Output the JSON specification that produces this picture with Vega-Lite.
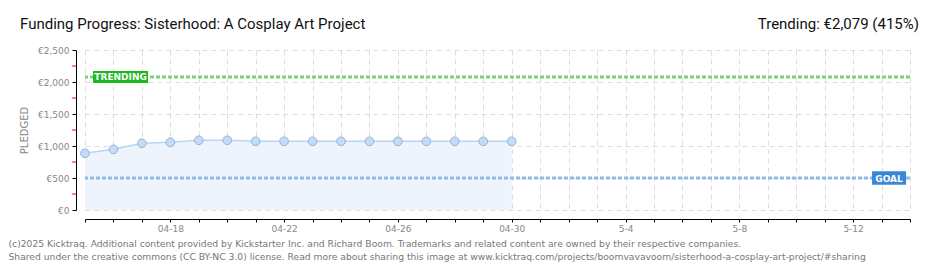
{
  "$schema": "https://vega.github.io/schema/vega-lite/v6.json",
  "width": 825,
  "height": 160,
  "autosize": {"type": "none"},
  "padding": {"left": 85, "top": 50, "right": 30, "bottom": 60},
  "background": "white",
  "config": {
    "view": {"stroke": null},
    "font": "DejaVu Sans",
    "locale": {"number": {"decimal": ".", "thousands": ",", "grouping": [3], "currency": ["€", ""]}}
  },
  "datasets": {
    "pledged": [
      {"date": "2025-04-15", "amount": 886},
      {"date": "2025-04-16", "amount": 948},
      {"date": "2025-04-17", "amount": 1042},
      {"date": "2025-04-18", "amount": 1058},
      {"date": "2025-04-19", "amount": 1089},
      {"date": "2025-04-20", "amount": 1089},
      {"date": "2025-04-21", "amount": 1073},
      {"date": "2025-04-22", "amount": 1073},
      {"date": "2025-04-23", "amount": 1073},
      {"date": "2025-04-24", "amount": 1073},
      {"date": "2025-04-25", "amount": 1073},
      {"date": "2025-04-26", "amount": 1073},
      {"date": "2025-04-27", "amount": 1073},
      {"date": "2025-04-28", "amount": 1073},
      {"date": "2025-04-29", "amount": 1073},
      {"date": "2025-04-30", "amount": 1073}
    ],
    "refs": [
      {"label": "TRENDING", "value": 2079, "boxdate": "2025-04-16T06:00:00Z", "kind": "trend"},
      {"label": "GOAL", "value": 500, "boxdate": "2025-05-13T06:20:00Z", "kind": "goal"}
    ],
    "minor": [
      {"date": "2025-04-15", "v": 250},
      {"date": "2025-04-15", "v": 750},
      {"date": "2025-04-15", "v": 1250},
      {"date": "2025-04-15", "v": 1750},
      {"date": "2025-04-15", "v": 2250}
    ],
    "headline": [
      {"date": "2025-04-15", "value": 2500, "text": "Funding Progress: Sisterhood: A Cosplay Art Project", "side": "left"},
      {"date": "2025-05-14", "value": 2500, "text": "Trending: €2,079 (415%)", "side": "right"}
    ]
  },
  "layer": [
    {
      "data": {"name": "pledged"},
      "mark": {"type": "area", "color": "#edf4fc", "line": false},
      "encoding": {
        "x": {
          "field": "date",
          "type": "temporal",
          "scale": {
            "type": "utc",
            "domain": [
              {"year": 2025, "month": 4, "date": 15, "utc": true},
              {"year": 2025, "month": 5, "date": 14, "utc": true}
            ],
            "nice": false
          },
          "axis": {
            "tickCount": {"interval": "day", "step": 1},
            "labelExpr": "((datum.value - 1744675200000) / 86400000) % 4 == 3 ? (utcmonth(datum.value) == 3 ? utcFormat(datum.value, '%m-%d') : utcFormat(datum.value, '%-m-%-d')) : ''",
            "labelColor": "#888",
            "labelFontSize": 9,
            "labelPadding": 2,
            "labelOverlap": false,
            "labelFlush": false,
            "domainColor": "#000",
            "tickColor": "#000",
            "tickSize": 3,
            "offset": 9,
            "grid": true,
            "gridColor": "#ddd",
            "gridDash": [5, 4],
            "title": [
              "(c)2025 Kicktraq. Additional content provided by Kickstarter Inc. and Richard Boom. Trademarks and related content are owned by their respective companies.",
              "Shared under the creative commons (CC BY-NC 3.0) license. Read more about sharing this image at www.kicktraq.com/projects/boomvavavoom/sisterhood-a-cosplay-art-project/#sharing"
            ],
            "titleX": -77,
            "titleY": 27,
            "titleAlign": "left",
            "titleAnchor": "start",
            "titleBaseline": "alphabetic",
            "titleFont": "DejaVu Sans",
            "titleFontSize": 9.2,
            "titleFontWeight": "normal",
            "titleColor": "#777",
            "titleLineHeight": 13
          }
        },
        "y": {
          "field": "amount",
          "type": "quantitative",
          "scale": {"domain": [0, 2500], "nice": false, "zero": true},
          "axis": {
            "tickCount": 5,
            "tickMinStep": 500,
            "format": "$,d",
            "labelColor": "#888",
            "labelFontSize": 9,
            "labelPadding": 3,
            "labelOverlap": false,
            "labelFlush": false,
            "labelSeparation": 0,
            "domainColor": "#000",
            "tickColor": "#000",
            "tickSize": 4,
            "offset": 9,
            "grid": true,
            "gridColor": "#ddd",
            "gridDash": [5, 4],
            "title": "PLEDGED",
            "titleColor": "#888",
            "titleFontSize": 10,
            "titleFontWeight": "normal",
            "titlePadding": 8
          }
        }
      }
    },
    {
      "data": {"name": "minor"},
      "mark": {"type": "tick", "color": "#e00", "size": 4, "thickness": 1, "xOffset": -11, "orient": "horizontal", "opacity": 1},
      "encoding": {
        "x": {"field": "date", "type": "temporal"},
        "y": {"field": "v", "type": "quantitative"}
      }
    },
    {
      "data": {"name": "pledged"},
      "mark": {"type": "line", "color": "#b9d5f2", "strokeWidth": 1.5},
      "encoding": {
        "x": {"field": "date", "type": "temporal"},
        "y": {"field": "amount", "type": "quantitative"}
      }
    },
    {
      "data": {"name": "pledged"},
      "mark": {"type": "rule", "color": "#d5e4f5", "strokeWidth": 1},
      "transform": [{"filter": "datum.date == '2025-04-30'"}],
      "encoding": {
        "x": {"field": "date", "type": "temporal"},
        "y": {"field": "amount", "type": "quantitative"},
        "y2": {"datum": 0}
      }
    },
    {
      "data": {"name": "refs"},
      "transform": [{"filter": "datum.kind == 'trend'"}],
      "mark": {"type": "rule", "strokeWidth": 3, "strokeDash": [4, 2], "color": "#7ccf7c"},
      "encoding": {
        "y": {"field": "value", "type": "quantitative"}
      }
    },
    {
      "data": {"name": "refs"},
      "transform": [{"filter": "datum.kind == 'goal'"}],
      "mark": {"type": "rule", "strokeWidth": 3, "strokeDash": [4, 2], "color": "#92b9e6"},
      "encoding": {
        "y": {"field": "value", "type": "quantitative"}
      }
    },
    {
      "data": {"name": "pledged"},
      "mark": {"type": "point", "filled": true, "size": 75, "color": "#c4dcf6", "stroke": "#93b3d9", "strokeWidth": 1, "opacity": 1},
      "encoding": {
        "x": {"field": "date", "type": "temporal"},
        "y": {"field": "amount", "type": "quantitative"}
      }
    },
    {
      "data": {"name": "refs"},
      "transform": [{"filter": "datum.kind == 'trend'"}],
      "mark": {"type": "point", "filled": true, "opacity": 1, "strokeWidth": 0, "color": "#1db81d", "shape": "M-1,-0.22L1,-0.22L1,0.22L-1,0.22Z", "size": 3025},
      "encoding": {
        "x": {"field": "boxdate", "type": "temporal"},
        "y": {"field": "value", "type": "quantitative"}
      }
    },
    {
      "data": {"name": "refs"},
      "transform": [{"filter": "datum.kind == 'goal'"}],
      "mark": {"type": "point", "filled": true, "opacity": 1, "strokeWidth": 0, "color": "#3a87d6", "shape": "M-1,-0.39L1,-0.39L1,0.39L-1,0.39Z", "size": 1156},
      "encoding": {
        "x": {"field": "boxdate", "type": "temporal"},
        "y": {"field": "value", "type": "quantitative"}
      }
    },
    {
      "data": {"name": "refs"},
      "mark": {"type": "text", "color": "white", "fontSize": 9, "fontWeight": "bold", "font": "DejaVu Sans", "align": "center", "baseline": "middle", "dy": 0.5},
      "encoding": {
        "x": {"field": "boxdate", "type": "temporal"},
        "y": {"field": "value", "type": "quantitative"},
        "text": {"field": "label"}
      }
    },
    {
      "data": {"name": "headline"},
      "transform": [{"filter": "datum.side == 'left'"}],
      "mark": {"type": "text", "align": "left", "baseline": "alphabetic", "dx": -65, "dy": -21, "font": "Roboto", "fontSize": 15, "color": "#111"},
      "encoding": {
        "x": {"field": "date", "type": "temporal"},
        "y": {"field": "value", "type": "quantitative"},
        "text": {"field": "text"}
      }
    },
    {
      "data": {"name": "headline"},
      "transform": [{"filter": "datum.side == 'right'"}],
      "mark": {"type": "text", "align": "right", "baseline": "alphabetic", "dx": 9, "dy": -21, "font": "Roboto", "fontSize": 15, "color": "#111"},
      "encoding": {
        "x": {"field": "date", "type": "temporal"},
        "y": {"field": "value", "type": "quantitative"},
        "text": {"field": "text"}
      }
    }
  ]
}
